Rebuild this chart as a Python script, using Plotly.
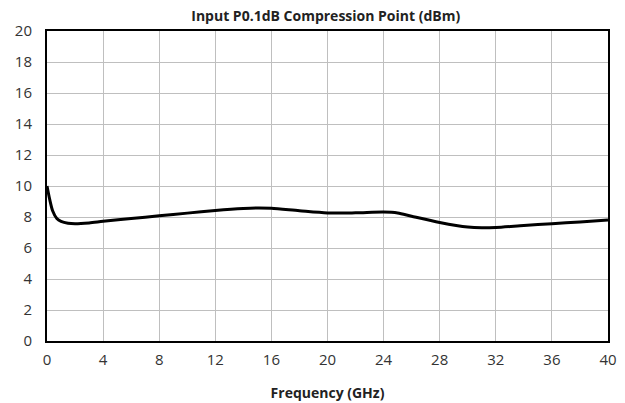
import plotly.graph_objects as go

freq_ghz = [0, 0.2, 0.4, 0.7, 1, 1.5, 2, 3, 4, 6, 8, 10, 12, 14, 15, 16, 18, 20, 22, 24, 25, 26, 28, 30, 31, 32, 34, 36, 38, 40]
p01db_dbm = [10.0, 9.1, 8.4, 7.9, 7.72, 7.6, 7.57, 7.62, 7.72, 7.9, 8.08, 8.25, 8.42, 8.55, 8.58, 8.56, 8.4, 8.26, 8.27, 8.32, 8.26, 8.05, 7.65, 7.35, 7.3, 7.32, 7.45, 7.57, 7.68, 7.8]
x_ticks = list(range(0, 41, 4))
y_ticks = list(range(0, 21, 2))

fig = go.Figure()
fig.add_trace(go.Scatter(x=freq_ghz, y=p01db_dbm, mode="lines",
                         line=dict(color="black", width=3, shape="spline", smoothing=0.8),
                         showlegend=False, cliponaxis=False))

font_fam = "Open Sans, Liberation Sans, sans-serif"
fig.update_layout(
    width=617, height=395,
    margin=dict(l=39, r=17, t=23, b=62, autoexpand=False),
    paper_bgcolor="white", plot_bgcolor="white",
    title=dict(text="<b>Input P0.1dB Compression Point (dBm)</b>", x=0.515, xanchor="center",
               y=0.993, yanchor="top", font=dict(family=font_fam, size=14, color="#222")),
    xaxis=dict(range=[0, 40], tickvals=x_ticks, showgrid=True, gridcolor="#bfbfbf", gridwidth=1,
               showline=True, linecolor="black", linewidth=2, mirror=True, zeroline=False,
               automargin=False, ticks="", ticklabelstandoff=4,
               tickfont=dict(family=font_fam, size=15, color="#333"),
               title=dict(text="<b>Frequency (GHz)</b>", font=dict(family=font_fam, size=14, color="#222"), standoff=20)),
    yaxis=dict(range=[0, 20], tickvals=y_ticks, showgrid=True, gridcolor="#bfbfbf", gridwidth=1,
               showline=True, linecolor="black", linewidth=2, mirror=True, zeroline=False,
               automargin=False, ticks="", ticklabelstandoff=10,
               tickfont=dict(family=font_fam, size=15, color="#333")),
)
fig.write_html("out.html")
